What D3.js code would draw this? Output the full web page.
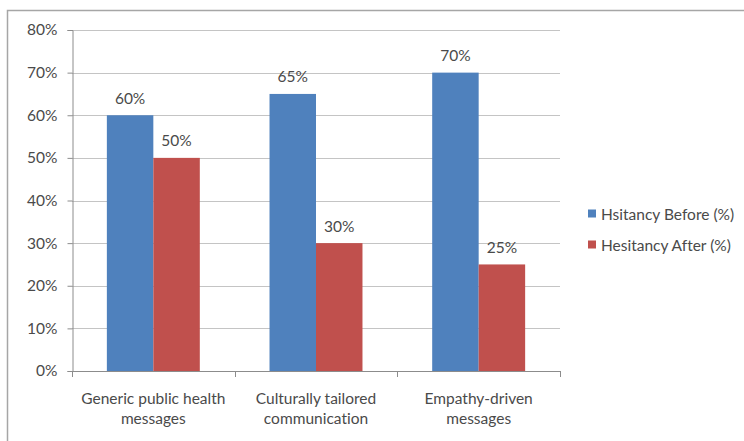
<!DOCTYPE html>
<html>
<head>
<meta charset="utf-8">
<script src="https://cdn.jsdelivr.net/npm/d3@7"></script>
<style>
  html, body { margin: 0; padding: 0; background: #fff; }
  svg { display: block; }
  text { font-family: Lato, "Open Sans", sans-serif; fill: #4a4a4a; font-variant-ligatures: none; font-feature-settings: "liga" 0, "dlig" 0; }
</style>
</head>
<body>
<svg id="chart" width="744" height="441"></svg>
<script>
// Vaccine hesitancy before/after, by messaging strategy
const categories = [
  ["Generic public health", "messages"],
  ["Culturally tailored", "communication"],
  ["Empathy-driven", "messages"]
];
const seriesNames = ["Hsitancy Before (%)", "Hesitancy After (%)"];
const before = [60, 65, 70];
const after = [50, 30, 25];
const yTicks = [0, 10, 20, 30, 40, 50, 60, 70, 80];
const colors = ["#4F81BD", "#C0504D"];

const FS = 15.5;
const svg = d3.select("#chart");

// Outer chart frame (top and left edges show within the page)
svg.append("rect")
  .attr("x", 7.5).attr("y", 10.5)
  .attr("width", 760).attr("height", 460)
  .attr("fill", "none").attr("stroke", "#a6a6a6").attr("stroke-width", 1.5);

const plot = { left: 72, right: 560, top: 30, bottom: 371 };

const x = d3.scaleBand()
  .domain(d3.range(categories.length))
  .range([plot.left, plot.right]);

const y = d3.scaleLinear()
  .domain([0, 80])
  .range([plot.bottom, plot.top]);

// Gridlines
svg.append("g")
  .selectAll("line")
  .data(yTicks)
  .join("line")
  .attr("x1", plot.left).attr("x2", plot.right)
  .attr("y1", d => Math.round(y(d)) + 0.5).attr("y2", d => Math.round(y(d)) + 0.5)
  .attr("stroke", "#c4c4c4").attr("stroke-width", 1);

// Bars: Excel-style gap width of 150%
const barW = x.bandwidth() / 3.5;
const data = categories.map((c, i) => [before[i], after[i]]);

const groups = svg.append("g")
  .selectAll("g")
  .data(data)
  .join("g");

groups.selectAll("rect")
  .data((d, i) => d.map((v, s) => ({ v, s, i })))
  .join("rect")
  .attr("x", d => x(d.i) + x.bandwidth() / 2 - barW + d.s * barW)
  .attr("y", d => y(d.v))
  .attr("width", barW)
  .attr("height", d => y(0) - y(d.v))
  .attr("fill", d => colors[d.s]);

// Value labels above bars
groups.selectAll("text")
  .data((d, i) => d.map((v, s) => ({ v, s, i })))
  .join("text")
  .attr("x", d => x(d.i) + x.bandwidth() / 2 - barW + d.s * barW + barW / 2)
  .attr("y", d => y(d.v) - 11.5)
  .attr("text-anchor", "middle")
  .attr("font-size", FS)
  .text(d => d.v + "%");

// Y axis
const yAxis = d3.axisLeft(y)
  .tickValues(yTicks)
  .tickSize(5)
  .tickPadding(10)
  .tickFormat(d => d + "%");

const yG = svg.append("g")
  .attr("transform", `translate(${plot.left + 0.5},0)`)
  .call(yAxis);
yG.select(".domain").attr("stroke", "#8c8c8c");
yG.selectAll(".tick line").attr("stroke", "#8c8c8c");
yG.selectAll(".tick text")
  .attr("font-size", FS)
  .attr("fill", "#4a4a4a")
  .style("font-family", "Lato, 'Open Sans', sans-serif");

// X axis with boundary ticks between categories
const xG = svg.append("g");
xG.append("line")
  .attr("x1", plot.left).attr("x2", plot.right)
  .attr("y1", plot.bottom + 0.5).attr("y2", plot.bottom + 0.5)
  .attr("stroke", "#8c8c8c");
const bounds = d3.range(categories.length + 1).map(i =>
  i < categories.length ? x(i) : x(i - 1) + x.bandwidth());
xG.selectAll(".bt")
  .data(bounds)
  .join("line")
  .attr("x1", d => Math.round(d) + 0.5).attr("x2", d => Math.round(d) + 0.5)
  .attr("y1", plot.bottom).attr("y2", plot.bottom + 6)
  .attr("stroke", "#8c8c8c");

xG.selectAll(".cat")
  .data(categories)
  .join("text")
  .attr("text-anchor", "middle")
  .attr("font-size", FS)
  .attr("x", (d, i) => x(i) + x.bandwidth() / 2)
  .attr("y", plot.bottom + 33)
  .selectAll("tspan")
  .data(d => d)
  .join("tspan")
  .attr("x", function () { return d3.select(this.parentNode).attr("x"); })
  .attr("dy", (d, j) => j === 0 ? 0 : 20)
  .text(d => d);

// Legend
const legend = svg.append("g");
const legendRows = [213.5, 244.5];
seriesNames.forEach((name, s) => {
  legend.append("rect")
    .attr("x", 588).attr("y", legendRows[s] - 4)
    .attr("width", 8).attr("height", 8)
    .attr("fill", colors[s]);
  legend.append("text")
    .attr("x", 601).attr("y", legendRows[s] + 6.5)
    .attr("font-size", FS)
    .text(name);
});
</script>
</body>
</html>
